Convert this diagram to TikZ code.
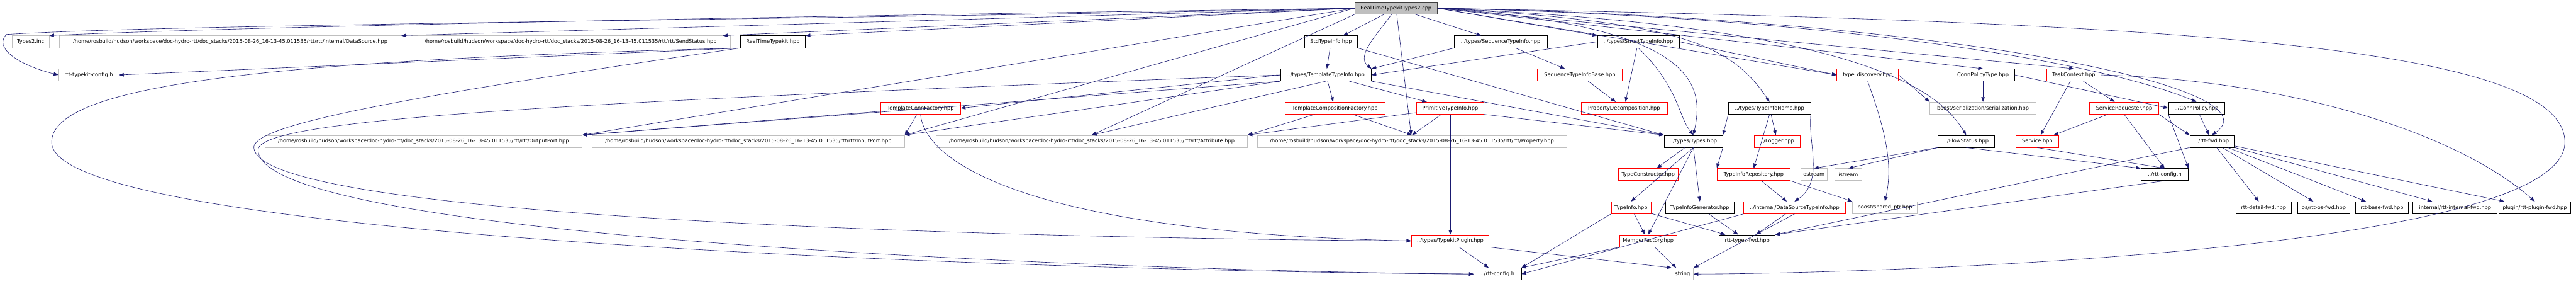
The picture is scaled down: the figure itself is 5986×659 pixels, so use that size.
\documentclass[tikz,border=0pt]{standalone}
\usepackage{fontspec}
\setmainfont{DejaVu Sans}
\usetikzlibrary{arrows.meta,positioning}
\definecolor{edgeblue}{HTML}{191970}
\definecolor{boxgray}{HTML}{BFBFBF}
\tikzset{
  file/.style={draw=black, line width=1pt, minimum height=28pt, inner xsep=3pt,
    font=\fontsize{12}{14}\selectfont},
  extfile/.style={file, draw=boxgray},
  redfile/.style={file, draw=red},
  rootfile/.style={file, fill=boxgray, draw=black!75},
  dep/.style={draw=edgeblue, line width=0.9pt, -{Triangle[length=11pt,width=8pt]}},
}
\begin{document}
\begin{tikzpicture}[x=1pt, y=-1pt]
  \useasboundingbox (0,0) rectangle (5986,659);

  % Top file
  \node[rootfile, minimum width=192pt] (root) at (3244,19) {RealTimeTypekitTypes2.cpp};

  % Rank 1
  \node[extfile, minimum width=86pt] (types2inc) at (71,97) {Types2.inc};
  \node[extfile, minimum width=794pt] (datasource) at (535,97) {/home/rosbuild/hudson/workspace/doc-hydro-rtt/doc\_stacks/2015-08-26\_16-13-45.011535/rtt/rtt/internal/DataSource.hpp};
  \node[extfile, minimum width=743pt] (sendstatus) at (1326,97) {/home/rosbuild/hudson/workspace/doc-hydro-rtt/doc\_stacks/2015-08-26\_16-13-45.011535/rtt/rtt/SendStatus.hpp};
  \node[file, minimum width=151pt] (rttypekit) at (1796,97) {RealTimeTypekit.hpp};
  \node[file, minimum width=123pt] (stdtypeinfo) at (3093,97) {StdTypeInfo.hpp};
  \node[file, minimum width=216pt] (seqtypeinfo) at (3487,97) {../types/SequenceTypeInfo.hpp};
  \node[file, minimum width=190pt] (structtypeinfo) at (3807,97) {../types/StructTypeInfo.hpp};

  % Rank 2
  \node[extfile, minimum width=140pt] (typekitconfig) at (206,174) {rtt-typekit-config.h};
  \node[file, minimum width=211pt] (templatetypeinfo) at (3081,174) {../types/TemplateTypeInfo.hpp};
  \node[redfile, minimum width=198pt] (seqbase) at (3671,174) {SequenceTypeInfoBase.hpp};
  \node[redfile, minimum width=143pt] (typediscovery) at (4340,174) {type\_discovery.hpp};
  \node[file, minimum width=147pt] (connpolicytype) at (4608,174) {ConnPolicyType.hpp};
  \node[redfile, minimum width=126pt] (taskcontext) at (4819,174) {TaskContext.hpp};

  % Rank 3
  \node[redfile, minimum width=186pt] (templateconn) at (2139,251) {TemplateConnFactory.hpp};
  \node[redfile, minimum width=232pt] (templatecomp) at (3102,251) {TemplateCompositionFactory.hpp};
  \node[redfile, minimum width=156pt] (primitive) at (3370,251) {PrimitiveTypeInfo.hpp};
  \node[redfile, minimum width=200pt] (propdecomp) at (3774,251) {PropertyDecomposition.hpp};
  \node[file, minimum width=191pt] (typeinfoname) at (4112,251) {../types/TypeInfoName.hpp};
  \node[extfile, minimum width=247pt] (serialization) at (4608,251) {boost/serialization/serialization.hpp};
  \node[redfile, minimum width=160pt] (servicerequester) at (4936,251) {ServiceRequester.hpp};
  \node[file, minimum width=130pt] (connpolicy) at (5104,251) {../ConnPolicy.hpp};

  % Rank 4
  \node[extfile, minimum width=737pt] (outputport) at (984,328) {/home/rosbuild/hudson/workspace/doc-hydro-rtt/doc\_stacks/2015-08-26\_16-13-45.011535/rtt/rtt/OutputPort.hpp};
  \node[extfile, minimum width=726pt] (inputport) at (1739,328) {/home/rosbuild/hudson/workspace/doc-hydro-rtt/doc\_stacks/2015-08-26\_16-13-45.011535/rtt/rtt/InputPort.hpp};
  \node[extfile, minimum width=723pt] (attribute) at (2537,328) {/home/rosbuild/hudson/workspace/doc-hydro-rtt/doc\_stacks/2015-08-26\_16-13-45.011535/rtt/rtt/Attribute.hpp};
  \node[extfile, minimum width=719pt] (property) at (3281,328) {/home/rosbuild/hudson/workspace/doc-hydro-rtt/doc\_stacks/2015-08-26\_16-13-45.011535/rtt/rtt/Property.hpp};
  \node[file, minimum width=136pt] (types) at (3935,328) {../types/Types.hpp};
  \node[redfile, minimum width=106pt] (logger) at (4130,328) {../Logger.hpp};
  \node[file, minimum width=131pt] (flowstatus) at (4569,328) {../FlowStatus.hpp};
  \node[redfile, minimum width=98pt] (service) at (4734,328) {Service.hpp};
  \node[file, minimum width=103pt] (rttfwd) at (5140,328) {../rtt-fwd.hpp};

  % Rank 5
  \node[redfile, minimum width=140pt] (typeconstructor) at (3830,405) {TypeConstructor.hpp};
  \node[redfile, minimum width=170pt] (typeinforepo) at (4075,405) {TypeInfoRepository.hpp};
  \node[extfile, minimum width=62pt] (ostream) at (4215,405) {ostream};
  \node[extfile, minimum width=62pt] (istream) at (4295,405) {istream};
  \node[file, minimum width=110pt] (rttconfig) at (5030,405) {../rtt-config.h};

  % Rank 6
  \node[redfile, minimum width=92pt] (typeinfo) at (3790,482) {TypeInfo.hpp};
  \node[file, minimum width=160pt] (typeinfogen) at (3950,482) {TypeInfoGenerator.hpp};
  \node[redfile, minimum width=236pt] (dstypeinfo) at (4170,482) {../internal/DataSourceTypeInfo.hpp};
  \node[extfile, minimum width=150pt] (sharedptr) at (4380,482) {boost/shared\_ptr.hpp};
  \node[file, minimum width=128pt] (detailfwd) at (5260,482) {rtt-detail-fwd.hpp};
  \node[file, minimum width=122pt] (osfwd) at (5400,482) {os/rtt-os-fwd.hpp};
  \node[file, minimum width=122pt] (basefwd) at (5535,482) {rtt-base-fwd.hpp};
  \node[file, minimum width=196pt] (internalfwd) at (5705,482) {internal/rtt-internal-fwd.hpp};
  \node[file, minimum width=168pt] (pluginfwd) at (5890,482) {plugin/rtt-plugin-fwd.hpp};

  % Rank 7
  \node[redfile, minimum width=180pt] (typekitplugin) at (3370,559) {../types/TypekitPlugin.hpp};
  \node[redfile, minimum width=132pt] (memberfactory) at (3830,559) {MemberFactory.hpp};
  \node[file, minimum width=130pt] (typesfwd) at (4060,559) {rtt-types-fwd.hpp};

  % Rank 8
  \node[file, minimum width=110pt] (rttconfigh) at (3480,636) {../rtt-config.h};
  \node[extfile, minimum width=50pt] (string) at (3910,636) {string};

  % Edges from the top file
  \draw[dep] (root.west) .. controls (2000,35) and (600,60) .. (types2inc.north east);
  \draw[dep] (root.west) .. controls (2000,45) and (400,55) .. (15,80) .. controls (-15,110) and (40,150) .. (typekitconfig.west);
  \draw[dep] (root.west) -- (datasource.north east);
  \draw[dep] (root.west) -- ([xshift=-18pt]sendstatus.north east);
  \draw[dep] (root.west) -- (rttypekit.north east);
  \draw[dep] (root) -- (stdtypeinfo);
  \draw[dep] (root) .. controls (3200,80) and (3150,130) .. (templatetypeinfo.north east);
  \draw[dep] (root) -- (seqtypeinfo);
  \draw[dep] (root.east) -- (structtypeinfo.north west);
  \draw[dep] (root) -- (property);
  \draw[dep] (root.east) .. controls (3900,50) and (4020,100) .. (typeinfoname.north);
  \draw[dep] (root.east) -- (typediscovery.west);
  \draw[dep] (root.east) -- (connpolicytype.north);
  \draw[dep] (root.east) -- (taskcontext.north);
  \draw[dep] (root.east) .. controls (4300,40) and (4900,150) .. (connpolicy.north);
  \draw[dep] (root.east) .. controls (4500,40) and (5300,200) .. (rttfwd.north);
  \draw[dep] (root.east) .. controls (3950,60) and (3960,200) .. (types.north);
  \draw[dep] (root.east) .. controls (4300,60) and (4500,200) .. (flowstatus.north);
  \draw[dep] (root.east) .. controls (5000,50) and (5960,100) .. (5960,330)
    .. controls (5960,600) and (4200,636) .. (string.east);
  \draw[dep] (root.south west) -- (attribute.north);
  \draw[dep] (root.west) -- (outputport.north east);
  \draw[dep] (root.west) -- (inputport.north east);

  % Edges of rank 1
  \draw[dep] (rttypekit.south west) -- (typekitconfig.east);
  \draw[dep] (rttypekit.south west) .. controls (600,140) and (120,200) .. (120,330)
    .. controls (120,560) and (2500,630) .. (rttconfigh.west);
  \draw[dep] (rttypekit.south west) .. controls (900,230) and (600,290) .. (590,340)
    .. controls (580,520) and (2600,555) .. (typekitplugin.west);
  \draw[dep] (stdtypeinfo) -- (templatetypeinfo);
  \draw[dep] (stdtypeinfo.south east) -- (types.north west);
  \draw[dep] (seqtypeinfo.south west) -- (templatetypeinfo.north east);
  \draw[dep] (seqtypeinfo) -- (seqbase);
  \draw[dep] (structtypeinfo.west) -- (templatetypeinfo.east);
  \draw[dep] (structtypeinfo) -- (propdecomp);
  \draw[dep] (structtypeinfo.east) -- (typediscovery.west);
  \draw[dep] (structtypeinfo.south) .. controls (3900,200) and (3900,270) .. (types.north);

  % Edges of rank 2
  \draw[dep] (templatetypeinfo.west) -- (templateconn.east);
  \draw[dep] (templatetypeinfo) -- (templatecomp);
  \draw[dep] (templatetypeinfo) -- (primitive);
  \draw[dep] (templatetypeinfo.south west) -- (outputport.north east);
  \draw[dep] (templatetypeinfo.south west) -- (inputport.north east);
  \draw[dep] (templatetypeinfo.south) -- (attribute.north);
  \draw[dep] (templatetypeinfo.south east) -- (types.north west);
  \draw[dep] (templatetypeinfo.west) .. controls (1200,240) and (620,280) .. (600,345)
    .. controls (580,560) and (2700,630) .. (rttconfigh.west);
  \draw[dep] (seqbase) -- (propdecomp);
  \draw[dep] (typediscovery.east) -- (serialization.north west);
  \draw[dep] (typediscovery.south) .. controls (4380,300) and (4400,380) .. (sharedptr.north);
  \draw[dep] (connpolicytype) -- (serialization);
  \draw[dep] (connpolicytype.east) -- (connpolicy.west);
  \draw[dep] (taskcontext) -- (service);
  \draw[dep] (taskcontext) -- (servicerequester);
  \draw[dep] (taskcontext.east) .. controls (5300,185) and (5700,300) .. (pluginfwd.north);

  % Edges of rank 3
  \draw[dep] (templateconn) -- (outputport.north east);
  \draw[dep] (templateconn) -- (inputport.north east);
  \draw[dep] (templateconn.south) .. controls (2150,380) and (2400,540) .. (typekitplugin.west);
  \draw[dep] (templatecomp) -- (attribute.north east);
  \draw[dep] (templatecomp) -- (property.north);
  \draw[dep] (primitive) -- (attribute.north east);
  \draw[dep] (primitive) -- (property.north);
  \draw[dep] (primitive.south east) -- (types.north west);
  \draw[dep] (primitive.south) -- (typekitplugin.north);
  \draw[dep] (typeinfoname) -- (logger);
  \draw[dep] (typeinfoname.south west) -- (types.north east);
  \draw[dep] (typeinfoname.south) -- (typeinforepo.north);
  \draw[dep] (typeinfoname.south east) .. controls (4200,330) and (4240,420) .. (dstypeinfo.north);
  \draw[dep] (servicerequester) -- (service);
  \draw[dep] (servicerequester.south east) -- (rttfwd.north west);
  \draw[dep] (servicerequester.south) -- (rttconfig.north);
  \draw[dep] (connpolicy) -- (rttfwd);
  \draw[dep] (connpolicy.south west) -- (rttconfig.north east);

  % Edges of rank 4 and lower
  \draw[dep] (types) -- (typeconstructor);
  \draw[dep] (types.south) -- (typeinfo.north);
  \draw[dep] (types.south east) -- (typeinforepo.north west);
  \draw[dep] (types.south) -- (memberfactory.north);
  \draw[dep] (types.south) -- (typeinfogen.north);
  \draw[dep] (flowstatus.south west) -- (ostream.north);
  \draw[dep] (flowstatus.south west) -- (istream.north);
  \draw[dep] (flowstatus.south) -- (rttconfig.north west);
  \draw[dep] (service.south) -- (rttconfig.north);
  \draw[dep] (rttfwd) -- (detailfwd);
  \draw[dep] (rttfwd) -- (osfwd);
  \draw[dep] (rttfwd) -- (basefwd);
  \draw[dep] (rttfwd) -- (internalfwd);
  \draw[dep] (rttfwd) -- (pluginfwd);
  \draw[dep] (rttfwd.south west) -- (typesfwd.north east);
  \draw[dep] (typeinforepo) -- (dstypeinfo);
  \draw[dep] (typeinforepo.south east) -- (sharedptr.north west);
  \draw[dep] (typeinfo) -- (memberfactory);
  \draw[dep] (typeinfo) -- (typesfwd);
  \draw[dep] (typeinfogen) -- (typesfwd);
  \draw[dep] (typeinfo.south west) -- (rttconfigh.north east);
  \draw[dep] (dstypeinfo) -- (typesfwd);
  \draw[dep] (dstypeinfo.south west) -- (rttconfigh.east);
  \draw[dep] (dstypeinfo.south) -- (string.north east);
  \draw[dep] (memberfactory) -- (string);
  \draw[dep] (memberfactory.south west) -- (rttconfigh.north east);
  \draw[dep] (typekitplugin) -- (rttconfigh);
  \draw[dep] (typekitplugin.south east) -- (string.north west);
  \draw[dep] (rttconfig.south) -- (typesfwd.north east);
\end{tikzpicture}
\end{document}
